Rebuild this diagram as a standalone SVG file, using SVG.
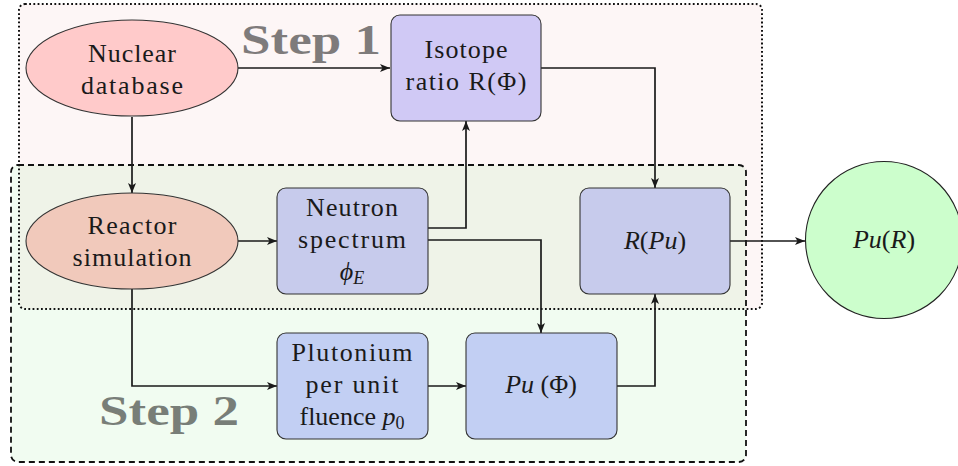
<svg xmlns="http://www.w3.org/2000/svg" width="958" height="466" viewBox="0 0 958 466">
<style>
text{font-family:'Liberation Serif','Times New Roman',serif;font-size:26px;fill:#1a1a1a;text-anchor:middle}
.step{font-weight:bold;font-size:42px;fill:#000;fill-opacity:0.5;text-anchor:start}
.i{font-style:italic}
.sub{font-size:18px;font-style:italic}
.box{stroke:#333;stroke-width:1.1}
.conn{fill:none;stroke:#1a1a1a;stroke-width:1.7;marker-end:url(#ah)}
</style>
<defs>
<marker id="ah" markerUnits="userSpaceOnUse" markerWidth="11" markerHeight="9" refX="10" refY="4.5" orient="auto">
<path d="M0,0.5 L10,4.5 L0,8.5 L2.5,4.5 z" fill="#1a1a1a"/>
</marker>
</defs>
<g id="regions">
<rect x="19" y="4" width="743" height="305" rx="6" fill="#fdf6f6"/>
<rect x="11" y="165" width="735" height="297" rx="7" fill="#00cc00" fill-opacity="0.055"/>
<rect x="19" y="4" width="743" height="305" rx="6" fill="none" stroke="#111" stroke-width="2" stroke-dasharray="1.8 2.4"/>
<rect x="11" y="165" width="735" height="297" rx="7" fill="none" stroke="#111" stroke-width="1.8" stroke-dasharray="6 4"/>
<text class="step" x="241" y="54" textLength="140" lengthAdjust="spacingAndGlyphs">Step 1</text>
<text class="step" x="99" y="425" textLength="140" lengthAdjust="spacingAndGlyphs">Step 2</text>
</g>
<g id="connectors">
<path class="conn" d="M238,68 H390"/>
<path class="conn" d="M132,117 V193"/>
<path class="conn" d="M541,68 H655 V188"/>
<path class="conn" d="M238,241 H277"/>
<path class="conn" d="M428,228 H466 V121"/>
<path class="conn" d="M428,240 H541 V333"/>
<path class="conn" d="M132,288 V386 H277"/>
<path class="conn" d="M428,386 H466"/>
<path class="conn" d="M617,386 H655 V294"/>
<path class="conn" d="M730,241 H805"/>
</g>
<g id="nuclear-database">
<ellipse cx="132" cy="68" rx="106" ry="48" fill="#ffcaca" class="box"/>
<text x="132" y="62" textLength="88">Nuclear</text>
<text x="132" y="94" textLength="102">database</text>
</g>
<g id="reactor-simulation">
<ellipse cx="132" cy="241" rx="106" ry="48" fill="#f1c9bb" class="box"/>
<text x="132" y="234" textLength="89">Reactor</text>
<text x="132" y="266" textLength="119">simulation</text>
</g>
<g id="isotope-ratio">
<rect x="391" y="15" width="150" height="106" rx="9" fill="#d0c9f5" class="box"/>
<text x="466" y="58" textLength="83">Isotope</text>
<text x="466" y="90" textLength="121">ratio R(Φ)</text>
</g>
<g id="neutron-spectrum">
<rect x="277" y="188" width="151" height="106" rx="9" fill="#c7cbec" class="box"/>
<text x="352" y="216" textLength="92">Neutron</text>
<text x="352" y="248" textLength="108">spectrum</text>
<text x="352" y="280"><tspan class="i">ϕ</tspan><tspan class="sub" dy="4">E</tspan></text>
</g>
<g id="r-pu">
<rect x="580" y="188" width="150" height="106" rx="9" fill="#c7cbec" class="box"/>
<text x="655" y="249"><tspan class="i">R</tspan>(<tspan class="i">Pu</tspan>)</text>
</g>
<g id="plutonium">
<rect x="277" y="333" width="151" height="106" rx="9" fill="#c2cff3" class="box"/>
<text x="352" y="361" textLength="121">Plutonium</text>
<text x="352" y="393" textLength="93">per unit</text>
<text x="352" y="425">fluence <tspan class="i">p</tspan><tspan font-size="18" dy="4">0</tspan></text>
</g>
<g id="pu-phi">
<rect x="466" y="333" width="151" height="106" rx="9" fill="#c2cff3" class="box"/>
<text x="541" y="393"><tspan class="i">Pu</tspan> (Φ)</text>
</g>
<g id="pu-r">
<circle cx="884" cy="240" r="78.5" fill="#ccfecc" stroke="#222" stroke-width="1.1"/>
<text x="884" y="248"><tspan class="i">Pu</tspan>(<tspan class="i">R</tspan>)</text>
</g>
</svg>
